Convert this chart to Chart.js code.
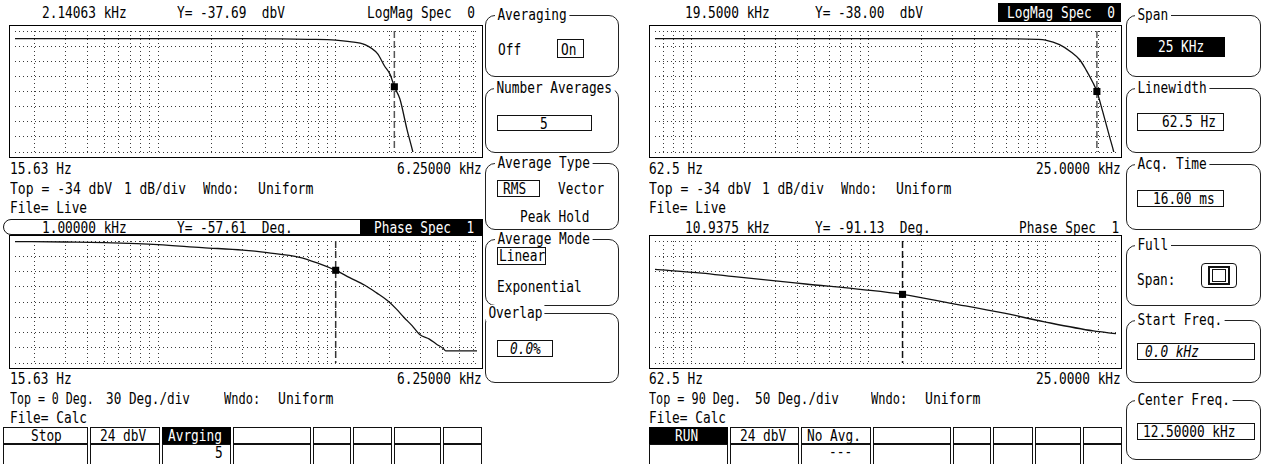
<!DOCTYPE html>
<html>
<head>
<meta charset="utf-8">
<script src="https://cdn.jsdelivr.net/npm/chart.js@4.4.1/dist/chart.umd.min.js"></script>
<style>
  body { margin: 0; width: 1266px; height: 464px; background: #fff; position: relative; overflow: hidden; }
  .tx { position: absolute; font: 16px/16px "DejaVu Sans Mono", monospace; white-space: pre; transform-origin: 0 0; color: #000; }
  .inv { color: #fff; }
  .ttl { background: #fff; padding: 0 3px; }
  .it { font-style: italic; }
  .frame { position: absolute; box-sizing: border-box; border: 1px solid #111; }
  .blk { position: absolute; background: #000; }
  .panel { position: absolute; box-sizing: border-box; border: 1.5px solid #222; border-radius: 10px; }
  .plot { position: absolute; box-sizing: border-box; border: 1px solid #000; }
  .plot canvas { position: absolute; left: 0; top: 0; }
</style>
</head>
<body>
<script>
// magnitude traces (dBV)
const magFreqL = [15.63, 100, 300, 500, 700, 1000, 1200, 1460, 1720, 1880, 2030, 2140, 2300, 2520, 2720, 2900];
const magDbL   = [-34.5, -34.5, -34.5, -34.52, -34.55, -34.6, -34.7, -34.9, -35.5, -36.3, -36.9, -37.69, -38.5, -40.5, -42, -43.5];
const magFreqR = [62.5, 1000, 5000, 9000, 10000, 12000, 14000, 15600, 17000, 18500, 19500, 21000, 23000, 24500, 25000];
const magDbR   = [-34.5, -34.5, -34.5, -34.55, -34.6, -34.9, -35.4, -35.9, -36.6, -37.4, -38.0, -39.3, -41.0, -42.2, -42.8];

// phase traces (deg)
const phFreqL = [15.63, 30, 50, 76, 100, 177, 300, 412, 626, 800, 1000, 1200, 1460, 1700, 1955, 2200, 2420, 2700, 2970, 3370, 3700, 4020, 4170, 6250];
const phDegL  = [-1, -2, -3, -5, -7, -13, -18, -23, -32, -44, -57.61, -72, -87, -102, -117, -134, -150, -167, -184, -193, -203, -211, -216, -216];
const phFreqR = [62.5, 115, 175, 443, 951, 1560, 2990, 5645, 9880, 18660, 25000];
const phDegR  = [-3, -15, -27, -51, -70, -85, -115, -145, -175, -205, -214];

// markers [freq, value]
const markLT = [2140, -37.69];
const markLB = [1000, -57.61];
const markRT = [19500, -38.0];
const markRB = [1560, -85];

// log grid positions
const gridL = [20, 30, 40, 50, 60, 70, 80, 90, 100, 200, 300, 400, 500, 600, 700, 800, 900, 1000, 2000, 3000, 4000, 5000, 6000];
const gridR = [70, 80, 90, 100, 200, 300, 400, 500, 600, 700, 800, 900, 1000, 2000, 3000, 4000, 5000, 6000, 7000, 8000, 9000, 10000, 20000];

function t(x, y, s, cls, w) {
  const e = document.createElement('div');
  e.className = 'tx ' + (cls || '');
  e.textContent = s;
  e.style.left = x + 'px';
  e.style.top = (y - 2) + 'px';
  document.body.appendChild(e);
  const sc = w ? w / e.offsetWidth : 0.8;
  e.style.transform = 'scaleX(' + sc + ')';
  return e;
}
function tr(right, y, s, cls) {
  const e = t(0, y, s, cls);
  e.style.left = (right - e.offsetWidth * 0.8) + 'px';
}
function frame(x, y, w, h, cls) {
  const e = document.createElement('div');
  e.className = cls || 'frame';
  e.style.cssText = 'left:' + x + 'px;top:' + y + 'px;width:' + w + 'px;height:' + h + 'px';
  document.body.appendChild(e);
  return e;
}
function panel(x, y, w, h, title, tx) {
  frame(x, y, w, h, 'panel');
  t(tx - 3, y - 6, title, 'ttl');
}
// one status row: "Top = ..", scale/div, "Wndo:", "Uniform"
function row(x0, y, parts) {
  parts.forEach(p => t(x0 + p[0], y, p[1], '', p[2]));
}

function plot(box, span, range, step, ticks, fx, fy, mk, mkColor) {
  const wrap = frame(box[0], box[1], box[2], box[3], 'plot');
  const cv = document.createElement('canvas');
  cv.width = box[2] - 2;
  cv.height = box[3] - 2;
  wrap.appendChild(cv);
  const grid = { color: '#3a3a3a', lineWidth: 1, drawTicks: false };
  const border = { display: false, dash: [1, 3] };
  new Chart(cv, {
    type: 'line',
    data: {
      datasets: [
        { data: [{ x: mk[0], y: mk[1] }], showLine: false, pointStyle: 'rect', pointRadius: 5,
          pointBackgroundColor: '#000', pointBorderColor: '#000', pointBorderWidth: 0, order: 0 },
        { data: fx.map((f, i) => ({ x: f, y: fy[i] })), borderColor: '#111', borderWidth: 1.3,
          pointRadius: 0, cubicInterpolationMode: 'monotone', order: 1 },
        { data: [{ x: mk[0], y: range[1] }, { x: mk[0], y: range[0] }], borderColor: mkColor,
          borderWidth: 1.5, borderDash: [7, 3], pointRadius: 0, order: 2 }
      ]
    },
    options: {
      responsive: false,
      animation: false,
      events: [],
      layout: { padding: 0 },
      plugins: { legend: { display: false }, tooltip: { enabled: false } },
      scales: {
        x: {
          type: 'logarithmic', min: span[0], max: span[1],
          ticks: { display: false }, grid: grid, border: border,
          afterBuildTicks: s => { s.ticks = ticks.map(v => ({ value: v })); }
        },
        y: {
          min: range[0], max: range[1],
          ticks: { display: false, stepSize: step }, grid: grid, border: border
        }
      }
    }
  });
}

// ---------- left screen ----------
t(42, 7, '2.14063 kHz');
t(177, 7, 'Y= -37.69  dbV');
t(367, 7, 'LogMag Spec  0');
plot([9, 25, 474, 133], [15.63, 6250], [-42, -34], 1, gridL, magFreqL, magDbL, markLT, '#555');
t(10, 163, '15.63 Hz');
tr(482, 163, '6.25000 kHz');
row(10, 183, [[0, 'Top = -34 dbV', 102], [114, '1 dB/div', 62], [193, 'Wndo:', 36], [248, 'Uniform', 55]]);
t(10, 202, 'File= Live');

const hb = frame(3, 219, 480, 16);
hb.style.borderRadius = '8px 0 0 8px';
frame(360, 219, 123, 16, 'blk');
t(42, 222, '1.00000 kHz');
t(177, 222, 'Y= -57.61  Deg.');
t(374, 222, 'Phase Spec  1', 'inv');
plot([9, 235, 474, 134], [15.63, 6250], [-240, 0], 30, gridL, phFreqL, phDegL, markLB, '#333');
t(10, 373, '15.63 Hz');
tr(482, 373, '6.25000 kHz');
row(10, 393, [[0, 'Top = 0 Deg.', 84], [96, '30 Deg./div', 84], [214, 'Wndo:', 36], [268, 'Uniform', 55]]);
t(10, 412, 'File= Calc');

// softkey bar
const cellsL = [[3, 88], [90, 160], [162, 231], [233, 311], [313, 351], [353, 392], [394, 441], [443, 482]];
cellsL.forEach(c => { frame(c[0], 427, c[1] - c[0], 45); frame(c[0], 443, c[1] - c[0], 1); });
frame(162, 427, 69, 17, 'blk');
t(31, 430, 'Stop');
t(100, 430, '24 dbV');
t(168, 430, 'Avrging', 'inv');
t(215, 447, '5');

// averaging menu
panel(485, 15, 134, 62, 'Averaging', 498);
t(498, 44, 'Off');
frame(557, 39, 27, 19);
t(561, 44, 'On');
panel(485, 88, 134, 65, 'Number Averages', 497);
frame(497, 115, 95, 16);
t(540, 118, '5');
panel(485, 163, 134, 67, 'Average Type', 498);
frame(497, 180, 43, 17);
t(503, 183, 'RMS');
t(558, 183, 'Vector');
t(520, 211, 'Peak Hold');
panel(485, 239, 134, 67, 'Average Mode', 498);
frame(497, 247, 49, 18);
t(499, 250, 'Linear');
t(497, 281, 'Exponential');
panel(485, 313, 134, 70, 'Overlap', 489);
frame(497, 340, 56, 17);
t(510, 343, '0.0%', 'it');

// ---------- right screen ----------
t(685, 7, '19.5000 kHz');
t(815, 7, 'Y= -38.00  dbV');
frame(998, 3, 123, 19, 'blk');
t(1007, 7, 'LogMag Spec  0', 'inv');
plot([649, 25, 473, 133], [62.5, 25000], [-42, -34], 1, gridR, magFreqR, magDbR, markRT, '#555');
t(649, 163, '62.5 Hz');
tr(1121, 163, '25.0000 kHz');
row(649, 183, [[0, 'Top = -34 dbV', 102], [113, '1 dB/div', 62], [192, 'Wndo:', 36], [247, 'Uniform', 55]]);
t(649, 202, 'File= Live');

t(685, 222, '10.9375 kHz');
t(815, 222, 'Y= -91.13  Deg.');
t(1019, 222, 'Phase Spec  1');
plot([649, 235, 473, 134], [62.5, 25000], [-310, 90], 50, gridR, phFreqR, phDegR, markRB, '#111');
t(649, 373, '62.5 Hz');
tr(1121, 373, '25.0000 kHz');
row(649, 393, [[0, 'Top = 90 Deg.', 92], [106, '50 Deg./div', 84], [222, 'Wndo:', 36], [276, 'Uniform', 55]]);
t(649, 412, 'File= Calc');

const cellsR = [[649, 728], [730, 799], [801, 871], [873, 951], [953, 991], [993, 1033], [1035, 1081], [1083, 1122]];
cellsR.forEach(c => { frame(c[0], 427, c[1] - c[0], 45); frame(c[0], 443, c[1] - c[0], 1); });
frame(649, 427, 79, 17, 'blk');
t(675, 430, 'RUN', 'inv');
t(740, 430, '24 dbV');
t(807, 430, 'No Avg.');
t(829, 446, '---');

// frequency menu
panel(1126, 15, 135, 62, 'Span', 1138);
frame(1137, 37, 88, 20, 'blk');
t(1158, 41, '25 KHz', 'inv');
panel(1126, 88, 135, 65, 'Linewidth', 1138);
frame(1137, 113, 87, 18);
t(1162, 116, '62.5 Hz');
panel(1126, 164, 135, 66, 'Acq. Time', 1138);
frame(1137, 190, 87, 17);
t(1153, 193, '16.00 ms');
panel(1126, 245, 135, 61, 'Full', 1138);
t(1137, 274, 'Span:');
const ic = frame(1201, 263, 36, 25);
ic.style.borderRadius = '4px';
ic.style.borderWidth = '1.5px';
frame(1208, 266, 22, 19).style.borderWidth = '2px';
frame(1212, 269, 14, 13).style.borderWidth = '1.5px';
panel(1126, 320, 135, 63, 'Start Freq.', 1138);
frame(1137, 343, 118, 17);
t(1145, 346, '0.0 kHz', 'it');
panel(1126, 400, 135, 60, 'Center Freq.', 1138);
frame(1137, 423, 118, 17);
t(1143, 426, '12.50000 kHz');
</script>
</body>
</html>
